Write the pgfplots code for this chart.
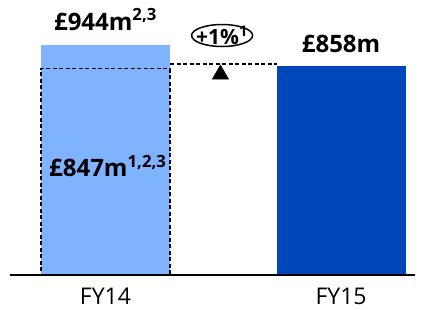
\documentclass[border=0pt]{standalone}
\usepackage{fontspec}
\setmainfont{Open Sans}
\usepackage{pgfplots}
\pgfplotsset{compat=1.18}
\usetikzlibrary{shapes.geometric}
\definecolor{lightbar}{HTML}{7FB2FF}
\definecolor{darkbar}{HTML}{0047BB}
\begin{document}
\begin{tikzpicture}
\path[use as bounding box] (0pt,0pt) rectangle (428pt,309pt);
\begin{axis}[
  at={(10pt,34pt)}, anchor=south west,
  scale only axis, width=405pt, height=230pt,
  xmin=-0.4055, xmax=1.314, ymin=0, ymax=944,
  axis x line=bottom, hide y axis,
  x axis line style={-, line width=1.2pt},
  xtick={0,1}, xticklabels={FY14,FY15},
  major tick length=0pt,
  xticklabel style={font=\fontsize{23}{26}\selectfont, inner sep=0pt, anchor=north, yshift=-13pt},
  clip=false, axis on top,
]
\addplot[ybar, bar width=129pt, bar shift=0pt, fill=lightbar, draw=none] coordinates {(0,944)};
\addplot[ybar, bar width=129pt, bar shift=0pt, fill=darkbar, draw=none] coordinates {(1,858)};
\addplot[ybar, bar width=129pt, bar shift=0pt, fill=none, draw=black, line width=1.5pt, dash pattern=on 4pt off 2.5pt] coordinates {(0,847)};
\addplot[line width=1.2pt, dash pattern=on 4pt off 2.5pt] coordinates {(0.274,866) (0.728,866)};
\addplot[only marks, mark=triangle*, mark size=9.5pt, black] coordinates {(0.488,823)};
\node[anchor=base, font=\bfseries\fontsize{24}{28}\selectfont, yshift=15pt] at (axis cs:0,944) {£944m\textsuperscript{2,3}};
\node[anchor=base, font=\bfseries\fontsize{24}{28}\selectfont, yshift=13pt] at (axis cs:1,858) {£858m};
\node[anchor=base, font=\bfseries\fontsize{24}{28}\selectfont] at (axis cs:0.01,406) {£847m\textsuperscript{1,2,3}};
\node[ellipse, draw, line width=1.5pt, minimum width=61pt, minimum height=22pt, inner sep=0pt] at (axis cs:0.495,983) {};
\node[font=\bfseries\fontsize{21}{24}\selectfont, inner sep=0pt] at (axis cs:0.495,983) {+1\%\textsuperscript{1}};
\end{axis}
\end{tikzpicture}
\end{document}
